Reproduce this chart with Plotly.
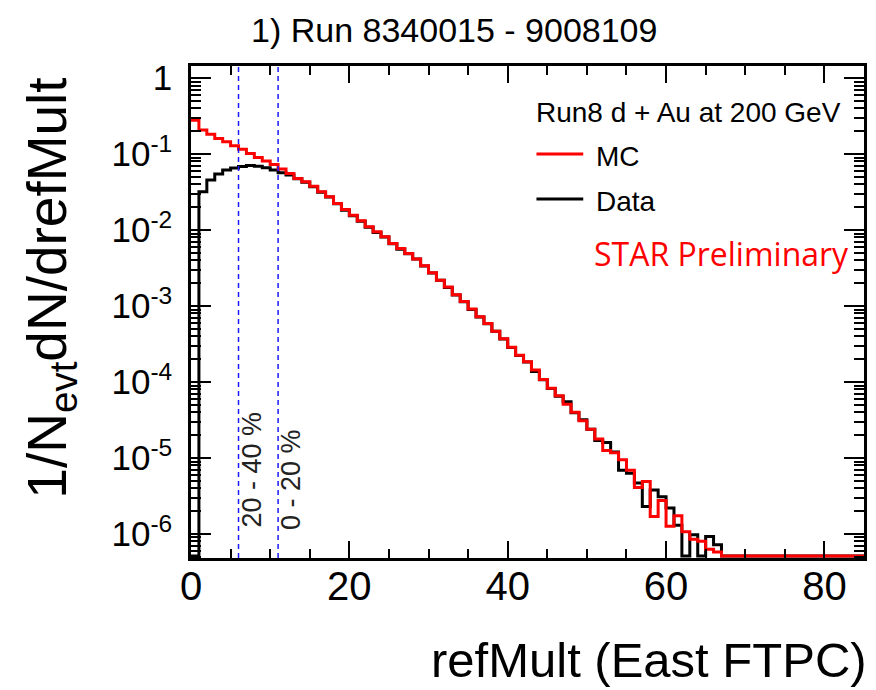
import numpy as np
import plotly.graph_objects as go

# ---------------- data ----------------
bin_edges_start = list(range(0, 85))  # refMult bins of width 1

mc_values = [
    0.28, 0.207, 0.182, 0.161, 0.145, 0.129, 0.116, 0.102, 0.0904, 0.0809,
    0.0731, 0.0635, 0.0557, 0.0479, 0.0433, 0.0379, 0.0319, 0.0275, 0.0224, 0.0187,
    0.0157, 0.0133, 0.0111, 0.0095, 0.00817, 0.00668, 0.00574, 0.00493, 0.00417, 0.00339,
    0.00275, 0.00219, 0.00178, 0.00141, 0.00115, 0.000912, 0.000724, 0.000589, 0.000468, 0.000372,
    0.000288, 0.000226, 0.000185, 0.000144, 0.000108, 8.3e-5, 6.6e-5, 5.1e-5, 4.0e-5, 3.1e-5,
    2.4e-5, 1.78e-5, 1.26e-5, 1.17e-5, 9.5e-6, 6.9e-6, 4.1e-6, 4.9e-6, 1.7e-6, 2.75e-6,
    1.26e-6, 1.74e-6, 1.07e-6, 8.5e-7, 8.0e-7, 6.3e-7, 5.8e-7, 0, 0, 0,
    0, 0, 0, 0, 0, 0, 0, 0, 0, 0,
    0, 0, 0, 0, 0,
]

data_values = [
    0, 0.0319, 0.0455, 0.0546, 0.0616, 0.0655, 0.0689, 0.071, 0.0695, 0.066,
    0.0616, 0.0568, 0.053, 0.0475, 0.0425, 0.0372, 0.0315, 0.0272, 0.0222, 0.0183,
    0.0155, 0.0131, 0.0109, 0.0093, 0.0081, 0.0066, 0.0056, 0.0049, 0.00415, 0.00337,
    0.00273, 0.00218, 0.00176, 0.0014, 0.00114, 0.0009, 0.00072, 0.000585, 0.000465, 0.00037,
    0.000286, 0.000224, 0.000183, 0.000138, 0.000107, 8.2e-5, 6.5e-5, 5.5e-5, 3.95e-5, 3.2e-5,
    2.4e-5, 1.7e-5, 1.6e-5, 1.2e-5, 6.9e-6, 6.3e-6, 4.7e-6, 2.3e-6, 3.8e-6, 3.1e-6,
    2.2e-6, 1.3e-6, 0, 9.8e-7, 0, 9.3e-7, 7.2e-7, 0, 0, 0,
    0, 0, 0, 0, 0, 0, 0, 0, 0, 0,
    0, 0, 0, 0, 0,
]

centrality_cuts = [6, 11]
centrality_labels = ["20 - 40 %", "0 - 20 %"]

y_tick_vals = [1, 1e-1, 1e-2, 1e-3, 1e-4, 1e-5, 1e-6]
y_tick_text = ["1", "10<sup>-1</sup>", "10<sup>-2</sup>", "10<sup>-3</sup>",
               "10<sup>-4</sup>", "10<sup>-5</sup>", "10<sup>-6</sup>"]

title_text = "1) Run 8340015 - 9008109"
legend_header = "Run8 d + Au at 200 GeV"

# ---------------- geometry helpers ----------------
W, H = 876, 690
L, R, T, B = 191, 9, 66, 132
PW, PH = W - L - R, H - T - B
Y_LOG_MIN, Y_LOG_MAX = -6.316, 0.16
FLOOR = 10 ** (Y_LOG_MIN + 0.025)
FONT = "Liberation Sans"


def px(xp):
    return (xp - L) / PW


def py(yp):
    return (H - B - yp) / PH


def step_xy(values):
    v = np.asarray(values, dtype=float)
    v = np.where(v > 0, v, FLOOR)
    x = list(bin_edges_start) + [bin_edges_start[-1] + 1]
    y = list(v) + [v[-1]]
    return x, y


fig = go.Figure()

xd, yd = step_xy(data_values)
fig.add_trace(go.Scatter(x=xd, y=yd, mode="lines", line=dict(color="black", width=3, shape="hv"),
                         name="Data", showlegend=False))
xm, ym = step_xy(mc_values)
fig.add_trace(go.Scatter(x=xm, y=ym, mode="lines", line=dict(color="#ff0000", width=3, shape="hv"),
                         name="MC", showlegend=False))

# centrality dashed lines
for c in centrality_cuts:
    fig.add_shape(type="line", xref="x", yref="paper", x0=c, x1=c, y0=0, y1=1,
                  line=dict(color="#1a1aff", width=1.5, dash="5px,4px"))

# centrality labels
for c, lab, yc in zip(centrality_cuts, centrality_labels, [470, 480]):
    fig.add_annotation(x=c, xref="x", xshift=13, y=py(yc), yref="paper",
                       text=lab, textangle=-90, showarrow=False,
                       font=dict(family=FONT, size=27, color="#222222"),
                       xanchor="center", yanchor="middle")

minor_y = [k * 10.0 ** e for e in range(-7, 1) for k in range(2, 10)]

fig.update_layout(
    width=W, height=H,
    margin=dict(l=L, r=R, t=T, b=B),
    paper_bgcolor="white", plot_bgcolor="white",
    font=dict(family=FONT, color="black"),
    xaxis=dict(
        range=[0, 85], showgrid=False, zeroline=False,
        showline=True, linecolor="black", linewidth=2.5, mirror="allticks",
        ticks="inside", ticklen=17, tickwidth=1.5, tickcolor="black",
        tickmode="linear", tick0=0, dtick=20,
        tickfont=dict(size=40, family=FONT),
        ticklabelstandoff=-9,
        minor=dict(ticks="inside", ticklen=9, tickwidth=1.5, tickcolor="black",
                   dtick=5, tick0=0, showgrid=False),
    ),
    yaxis=dict(
        type="log", range=[Y_LOG_MIN, Y_LOG_MAX], showgrid=False, zeroline=False,
        showline=True, linecolor="black", linewidth=2.5, mirror="allticks",
        ticks="inside", ticklen=20, tickwidth=1.5, tickcolor="black",
        tickmode="array", tickvals=y_tick_vals, ticktext=y_tick_text,
        tickfont=dict(size=35, family=FONT),
        ticklabelstandoff=9,
        minor=dict(ticks="inside", ticklen=10, tickwidth=1.5, tickcolor="black",
                   tickmode="array", tickvals=minor_y, showgrid=False),
    ),
)

# title
fig.add_annotation(x=px(455), y=py(30), xref="paper", yref="paper", text=title_text,
                   showarrow=False, xanchor="center", yanchor="middle",
                   font=dict(size=34, family=FONT, color="black"))

# axis titles
fig.add_annotation(x=px(872), y=py(660), xref="paper", yref="paper", text="refMult (East FTPC)",
                   showarrow=False, xanchor="right", yanchor="middle",
                   font=dict(size=49, family=FONT, color="black"))
fig.add_annotation(x=px(50), y=py(288), xref="paper", yref="paper",
                   text="1/N<sub>evt</sub>dN/drefMult", textangle=-90,
                   showarrow=False, xanchor="center", yanchor="middle",
                   font=dict(size=55, family=FONT, color="black"))

# legend (drawn manually, ROOT style)
fig.add_annotation(x=px(536), y=py(112), xref="paper", yref="paper", text=legend_header,
                   showarrow=False, xanchor="left", yanchor="middle",
                   font=dict(size=28, family=FONT, color="black"))
for lab, col, yc in [("MC", "#ff0000", 156), ("Data", "black", 201)]:
    fig.add_shape(type="line", xref="paper", yref="paper", x0=px(538), x1=px(585),
                  y0=py(yc - 2), y1=py(yc - 2), line=dict(color=col, width=3))
    fig.add_annotation(x=px(596), y=py(yc), xref="paper", yref="paper", text=lab,
                       showarrow=False, xanchor="left", yanchor="middle",
                       font=dict(size=28, family=FONT, color="black"))

fig.add_annotation(x=px(594), y=py(254), xref="paper", yref="paper", text="STAR Preliminary",
                   showarrow=False, xanchor="left", yanchor="middle",
                   font=dict(size=32, family="Open Sans", color="#ff0000"))

fig.write_html("out.html")
